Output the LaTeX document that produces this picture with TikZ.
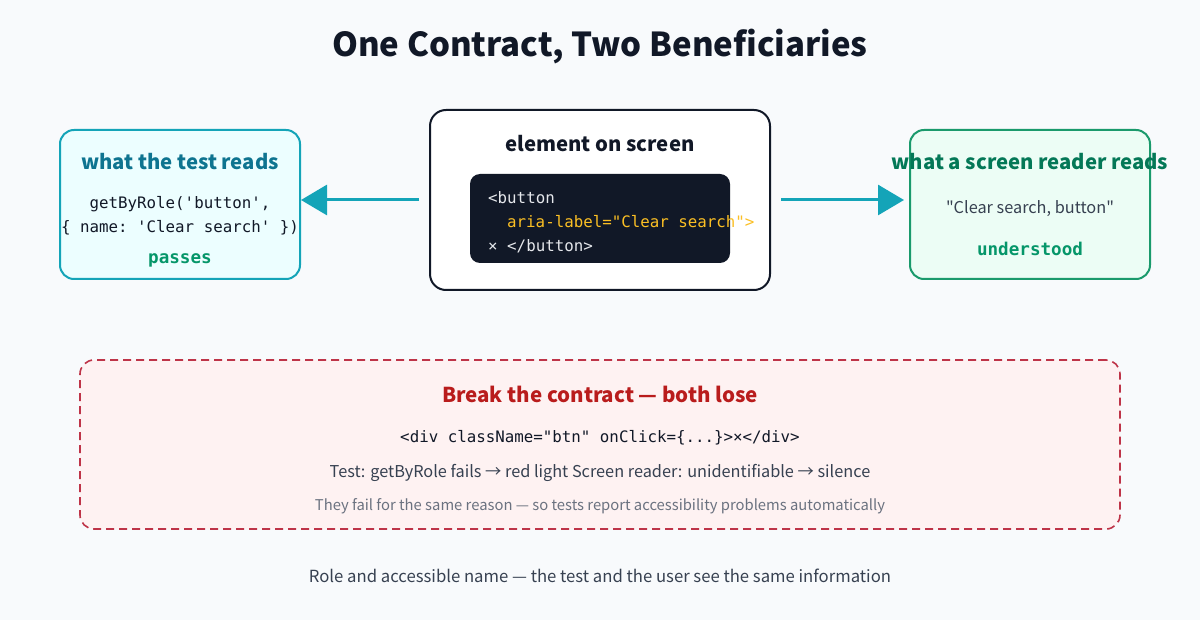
\documentclass[tikz,border=0pt]{standalone}
\usepackage{fontspec}
\setmainfont{Noto Sans CJK KR}[Ligatures=TeXOff]
\setmonofont{DejaVu Sans Mono}
\usetikzlibrary{arrows.meta, positioning}
\definecolor{bgpage}{HTML}{F8FAFC}
\definecolor{ink}{HTML}{111827}
\definecolor{inkgray}{HTML}{374151}
\definecolor{softgray}{HTML}{6B7280}
\definecolor{cteal}{HTML}{14A4B8}
\definecolor{tealdark}{HTML}{0E7490}
\definecolor{tealfill}{HTML}{ECFEFF}
\definecolor{cgreen}{HTML}{059669}
\definecolor{greendark}{HTML}{047857}
\definecolor{greenborder}{HTML}{1A9A6C}
\definecolor{greenfill}{HTML}{ECFDF5}
\definecolor{cred}{HTML}{B91C1C}
\definecolor{reddash}{HTML}{BE3448}
\definecolor{redfill}{HTML}{FEF2F2}
\definecolor{codebg}{HTML}{111827}
\definecolor{codewhite}{HTML}{E5E7EB}
\definecolor{codeamber}{HTML}{FBBF24}

\begin{document}
\begin{tikzpicture}[x=1pt, y=-1pt,
  card/.style={draw, rounded corners=14pt, line width=2pt, minimum width=240pt, minimum height=149pt},
  hdr/.style={inner sep=0pt, font=\fontsize{20.3}{24}\selectfont\bfseries},
  code/.style={inner sep=0pt, font=\fontsize{15.8}{24}\selectfont\ttfamily},
  verdict/.style={inner sep=0pt, font=\fontsize{17.6}{21}\selectfont\ttfamily\bfseries, text=cgreen},
  txt/.style={inner sep=0pt, font=\fontsize{16.3}{20}\selectfont, text=inkgray},
  flow/.style={-{Triangle[length=26pt, width=30pt]}, line width=3pt, cteal}]
  \useasboundingbox (0,0) rectangle (1200,620);
  \fill[bgpage] (0,0) rectangle (1200,620);

  \node[inner sep=0pt, font=\fontsize{33}{40}\selectfont\bfseries, text=ink] (title) at (600,47) {One Contract, Two Beneficiaries};

  % the test side
  \node[card, draw=cteal, fill=tealfill] (test) at (180,204.5) {};
  \node[hdr, text=tealdark] (testhead) at (180,162) {what the test reads};
  \node[code, align=center, text=ink] (testcode) at (180,216) {getByRole('button',\\\{ name: 'Clear search' \})};
  \node[verdict] (passes) at (180,260) {passes};

  % the element itself
  \node[card, draw=ink, fill=white, rounded corners=16pt, minimum width=340pt, minimum height=180pt] (elem) at (600,200) {};
  \node[hdr, text=ink] (elemhead) at (600,144) {element on screen};
  \node[fill=codebg, rounded corners=10pt, minimum width=260pt, minimum height=89pt] (snippet) at (600,218.5) {};
  \node[code, text=codewhite, anchor=west] (line1) at (488,198) {<button};
  \node[code, text=codeamber, anchor=west] (line2) at (507,222) {aria-label="Clear search">};
  \node[code, text=codewhite, anchor=west] (line3) at (488,246) {× </button>};

  % the screen reader side
  \node[card, draw=greenborder, fill=greenfill] (reader) at (1030,204.5) {};
  \node[hdr, text=greendark] (readerhead) at (1030,162) {what a screen reader reads};
  \node[txt] (spoken) at (1030,209) {"Clear search, button"};
  \node[verdict] (understood) at (1030,249) {understood};

  \draw[flow, shorten <=10pt] (elem.west) -- (elem.west -| test.east);
  \draw[flow, shorten <=10pt, shorten >=5pt] (elem.east) -- (elem.east -| reader.west);

  % broken contract
  \node[draw=reddash, dash pattern=on 8pt off 5pt, fill=redfill, rounded corners=14pt, line width=1.6pt, minimum width=1040pt, minimum height=169pt] (breakbox) at (600,444.5) {};
  \node[inner sep=0pt, font=\fontsize{20.5}{24}\selectfont\bfseries, text=cred] (breakhead) at (600,394) {Break the contract — both lose};
  \node[code, text=ink] (badcode) at (600,438) {<div className="btn" onClick=\{...\}>×</div>};
  \node[txt] (outcome) at (600,473) {Test: getByRole fails → red light Screen reader: unidentifiable → silence};
  \node[inner sep=0pt, font=\fontsize{14.8}{18}\selectfont, text=softgray] (reason) at (600,506) {They fail for the same reason — so tests report accessibility problems automatically};

  \node[inner sep=0pt, font=\fontsize{16.7}{20}\selectfont, text=inkgray] (summary) at (600,576) {Role and accessible name — the test and the user see the same information};
\end{tikzpicture}
\end{document}
